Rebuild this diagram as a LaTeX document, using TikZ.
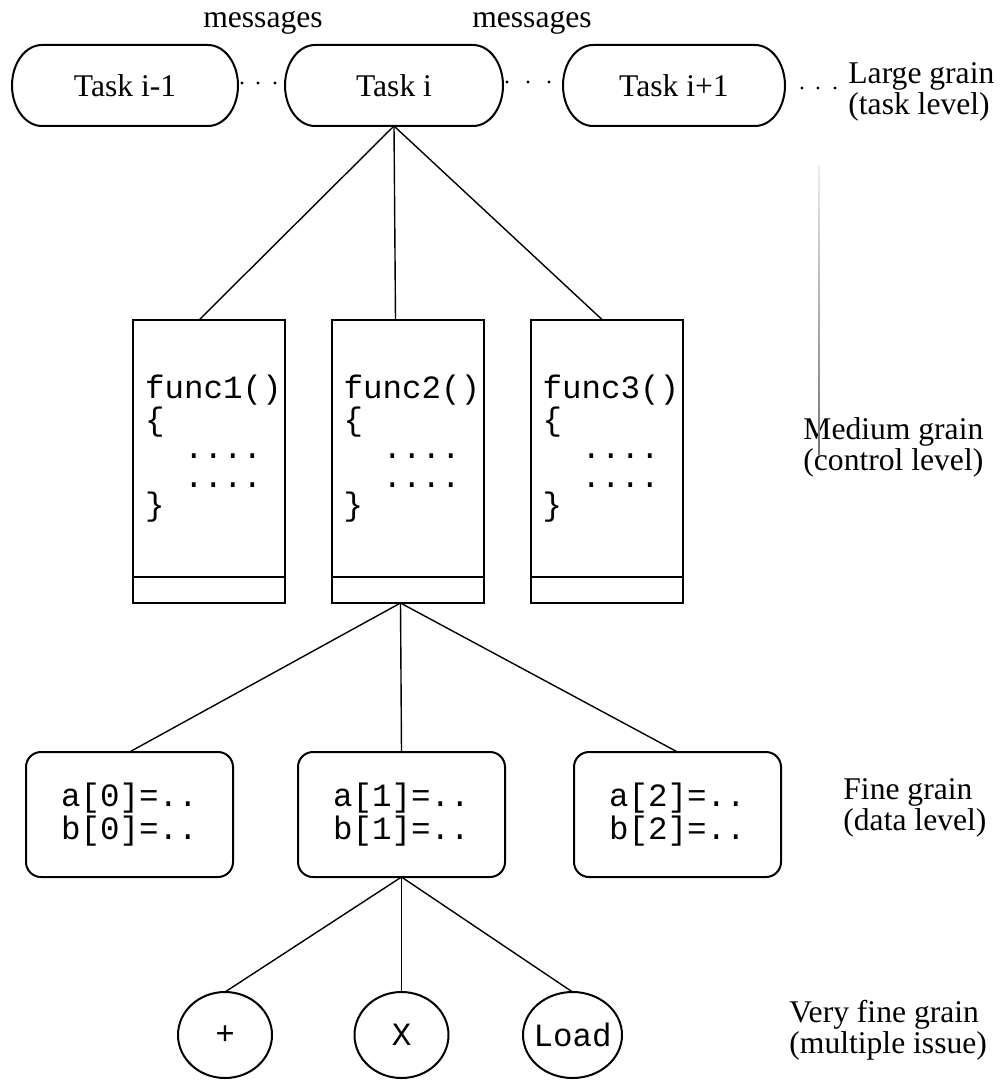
\documentclass[tikz,border=0pt]{standalone}
\usepackage{fontspec}
\setmainfont{Liberation Serif}
\setmonofont{Liberation Mono}
\usetikzlibrary{positioning,calc,shapes.geometric}
\tikzset{
  task/.style={minimum height=40.5pt, inner sep=0pt, outer sep=0pt, font=\fontsize{15.8}{18}\selectfont},
  msg/.style={anchor=base, inner sep=0pt, font=\fontsize{15.8}{18}\selectfont},
  funcbox/.style={draw, line width=1pt, minimum width=76pt, minimum height=128.5pt, outer sep=0pt,
    text width=64pt, inner xsep=6pt, align=left, font=\fontsize{16.25}{14.25}\selectfont\ttfamily},
  funcbase/.style={draw, line width=1pt, minimum width=76pt, minimum height=13pt, inner sep=0pt, outer sep=0pt},
  databox/.style={draw, line width=1pt, rounded corners=7.5pt, minimum width=103.5pt, outer sep=0pt,
    minimum height=62.5pt, align=center, font=\fontsize{16.25}{13.5}\selectfont\ttfamily},
  opnode/.style={draw, ellipse, line width=1pt, minimum width=47pt, minimum height=43pt, outer sep=0pt,
    inner sep=0pt, font=\fontsize{16.25}{18}\selectfont\ttfamily},
  grain/.style={anchor=base west, align=left, inner sep=0pt, font=\fontsize{15.8}{14}\selectfont},
  conn/.style={line width=0.7pt}
}
\begin{document}
\begin{tikzpicture}[x=0.5pt,y=0.5pt]
\useasboundingbox (0,0) rectangle (1004,-1081);

\node[task, minimum width=113pt] (t1) at (125,-85.5) {Task i-1};
\node[task, minimum width=109pt] (t2) at (394,-85.5) {Task i};
\node[task, minimum width=111pt] (t3) at (674,-85.5) {Task i+1};
\foreach \tk in {t1,t2,t3}
  \draw[line width=1pt] ([shift={(30,0)}]\tk.north west) -- ([shift={(-30,0)}]\tk.north east)
    arc[start angle=90, end angle=-90, x radius=15pt, y radius=20.25pt]
    -- ([shift={(30,0)}]\tk.south west)
    arc[start angle=270, end angle=90, x radius=15pt, y radius=20.25pt] -- cycle;
\node[msg] (m1) at (263,-28) {messages};
\node[msg] (m2) at (532,-28) {messages};
\foreach \x in {242,258,275} \fill (\x,-83) circle (0.8pt);
\foreach \x in {507,528,549} \fill (\x,-82) circle (0.8pt);
\foreach \x in {802,818,835} \fill (\x,-88) circle (0.8pt);

\node[funcbox] (f1) at (209,-448.5) {func1()\\\{\\\phantom{..}....\\\phantom{..}....\\\}};
\node[funcbox] (f2) at (407.5,-448.5) {func2()\\\{\\\phantom{..}....\\\phantom{..}....\\\}};
\node[funcbox] (f3) at (606.5,-448.5) {func3()\\\{\\\phantom{..}....\\\phantom{..}....\\\}};
\node[funcbase, below=0pt of f1] (b1) {};
\node[funcbase, below=0pt of f2] (b2) {};
\node[funcbase, below=0pt of f3] (b3) {};
\draw[conn] (t2.south) -- ($(f1.north)+(-10,0)$);
\draw[conn] (t2.south) -- ($(f2.north)+(-12,0)$);
\draw[conn] (t2.south) -- ($(f3.north)+(-4,0)$);

\node[databox] (d0) at (129.5,-814.5) {a[0]=..\\b[0]=..};
\node[databox] (d1) at (401.5,-814.5) {a[1]=..\\b[1]=..};
\node[databox] (d2) at (677.5,-814.5) {a[2]=..\\b[2]=..};
\coordinate (fork) at ($(b2.south)+(-7,0)$);
\draw[conn] (fork) -- (d0.north);
\draw[conn] (fork) -- (d1.north);
\draw[conn] (fork) -- (d2.north);

\node[opnode] (o1) at (225,-1035) {\makebox[0pt]{+}};
\node[opnode] (o2) at (401.5,-1035) {\makebox[0pt]{X}};
\node[opnode, minimum width=49.5pt] (o3) at (572.5,-1035) {\makebox[0pt]{Load}};
\draw[conn] (d1.south) -- (o1.north);
\draw[conn] (d1.south) -- (o2.north);
\draw[conn] (d1.south) -- (o3.north);

\node[grain] (g1) at (848,-114) {Large grain\\(task level)};
\node[grain] (g2) at (803,-470) {Medium grain\\(control level)};
\node[grain] (g3) at (843,-830) {Fine grain\\(data level)};
\node[grain] (g4) at (789,-1053) {Very fine grain\\(multiple issue)};
\shade[top color=gray!15, bottom color=gray!90!black] (818.3,-165) rectangle (819.7,-455);
\end{tikzpicture}
\end{document}
